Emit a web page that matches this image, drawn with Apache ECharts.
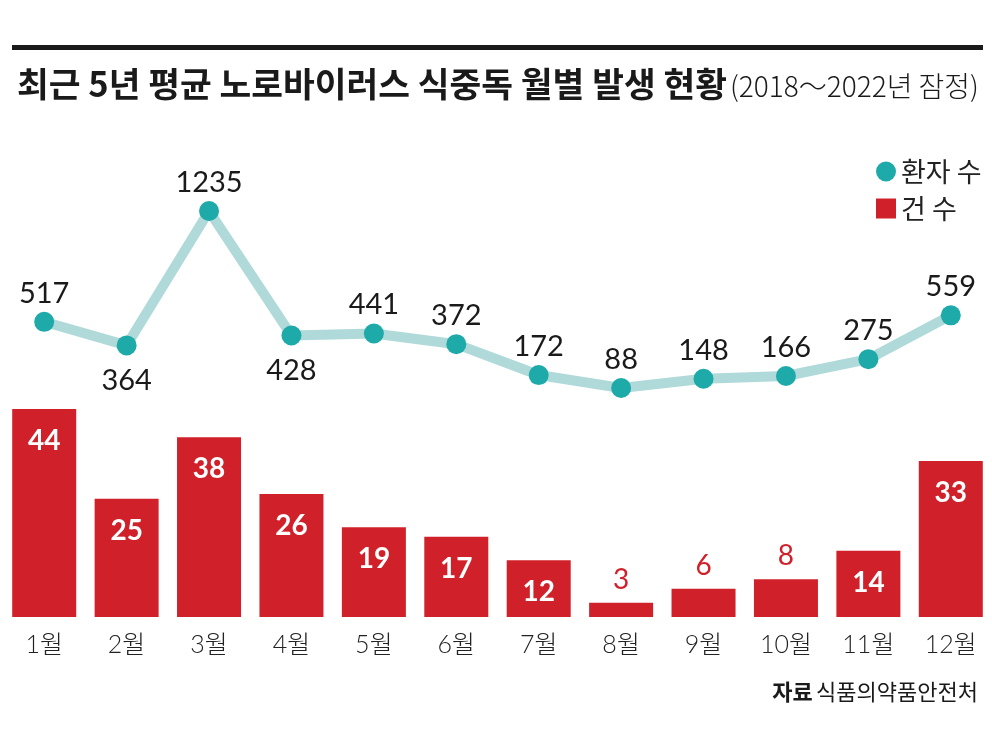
<!DOCTYPE html>
<html><head><meta charset="utf-8">
<script src="https://cdn.jsdelivr.net/npm/echarts@6/dist/echarts.min.js"></script>
<style>html,body{margin:0;padding:0;background:#fff}#c{width:992px;height:747px}</style>
</head><body><div id="c"></div>
<script>
const months = ['1월','2월','3월','4월','5월','6월','7월','8월','9월','10월','11월','12월'];
const patients = [517,364,1235,428,441,372,172,88,148,166,275,559];
const cases = [44,25,38,26,19,17,12,3,6,8,14,33];
const titleMain = '최근 5년 평균 노로바이러스 식중독 월별 발생 현황';
const titleSub = '(2018～2022년 잠정)';
const sourceBold = '자료';
const sourceText = '식품의약품안전처';

const NUM = 'Lato, "Noto Sans CJK KR", sans-serif';
const KR = '"Noto Sans CJK KR", sans-serif';
const belowLabel = [1,3];

const chart = echarts.init(document.getElementById('c'), null, {renderer:'canvas'});
chart.setOption({
  animation:false,
  title:{
    left:12, top:62,
    text:'{a|'+titleMain+'}{b|'+titleSub+'}',
    textStyle:{rich:{
      a:{fontFamily:KR, fontWeight:'bold', fontSize:34.5, color:'#1a1a1a', verticalAlign:'bottom'},
      b:{fontFamily:KR, fontWeight:300, fontSize:28, color:'#1a1a1a', verticalAlign:'bottom', padding:[0,0,1,3]}
    }}
  },
  legend:{
    orient:'vertical', left:871, top:153, itemGap:10,
    itemWidth:20, itemHeight:20,
    textStyle:{fontFamily:KR, fontSize:27, color:'#222'},
    data:[
      {name:'환자 수', icon:'circle', itemStyle:{color:'#1faaaa'}},
      {name:'건 수', icon:'rect', itemStyle:{color:'#d0202a'}}
    ]
  },
  grid:[
    {left:3, right:0, top:211, bottom:345.4},
    {left:3, right:0, top:409, bottom:130}
  ],
  xAxis:[
    {type:'category', gridIndex:0, data:months, show:false},
    {type:'category', gridIndex:1, data:months,
     axisLine:{show:false}, axisTick:{show:false},
     axisLabel:{fontFamily:NUM, fontSize:25, fontWeight:300, color:'#222', margin:15}}
  ],
  yAxis:[
    {type:'value', gridIndex:0, min:0, max:1235, show:false},
    {type:'value', gridIndex:1, min:0, max:44, show:false}
  ],
  series:[
    {name:'환자 수', type:'line', xAxisIndex:0, yAxisIndex:0,
     data:patients.map((v,i)=>({value:v, label:{position: belowLabel.includes(i)?'bottom':'top', distance: belowLabel.includes(i)?11:4}})),
     symbol:'circle', symbolSize:20,
     lineStyle:{width:10, color:'#b0d9d9'},
     itemStyle:{color:'#1faaaa', borderWidth:0},
     label:{show:true, fontFamily:NUM, fontSize:29, color:'#1a1a1a'},
     z:3},
    {name:'건 수', type:'bar', xAxisIndex:1, yAxisIndex:1, barWidth:64,
     data:cases.map(v=>({value:v, label: v<10 ? {position:'top', distance:9, color:'#d0202a', fontWeight:'normal'} : {position:'insideTop', distance:18, color:'#fff', fontWeight:'bold'}})),
     itemStyle:{color:'#d0202a'},
     label:{show:true, fontFamily:NUM, fontSize:28}}
  ],
  graphic:[
    {type:'rect', shape:{x:12, y:45, width:971, height:5}, style:{fill:'#1a1a1a'}},
    {type:'text', right:14, top:681, style:{
      text:'{a|'+sourceBold+'} {b|'+sourceText+'}',
      rich:{a:{fontFamily:KR, fontWeight:'bold', fontSize:22, fill:'#1a1a1a'}, b:{fontFamily:KR, fontSize:22, fill:'#1a1a1a'}}
    }}
  ]
});
</script></body></html>
